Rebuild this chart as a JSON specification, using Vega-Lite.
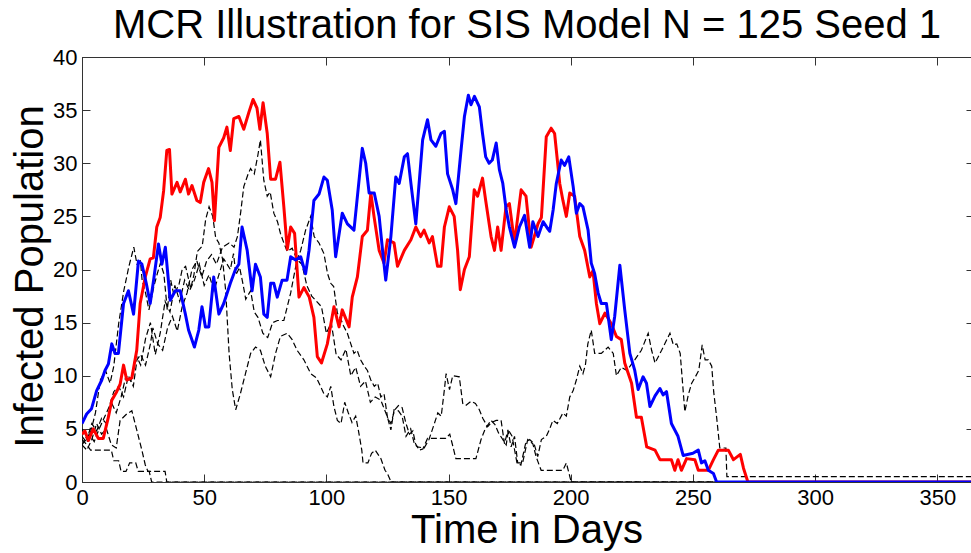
{
  "$schema": "https://vega.github.io/schema/vega-lite/v6.json",
  "width": 889,
  "height": 425,
  "autosize": {"type": "none"},
  "padding": {"left": 82, "top": 57, "right": 0, "bottom": 71},
  "background": "white",
  "config": {
    "font": "Liberation Sans",
    "view": {"stroke": "#333333", "strokeWidth": 1},
    "axis": {"grid": false, "domainColor": "#333333", "tickColor": "#333333", "labelColor": "black", "titleColor": "black", "labelFont": "Liberation Sans", "titleFont": "Liberation Sans"}
  },
  "datasets": {
    "dash": [
      {"s":"D1","d":0,"v":4},{"s":"D1","d":2,"v":3.5},{"s":"D1","d":3.5,"v":3},{"s":"D1","d":8,"v":3},{"s":"D1","d":12,"v":3},{"s":"D1","d":13,"v":2},{"s":"D1","d":15,"v":2},{"s":"D1","d":16,"v":1},{"s":"D1","d":18,"v":1},{"s":"D1","d":19.5,"v":1.8},{"s":"D1","d":22,"v":1.8},{"s":"D1","d":23,"v":1},{"s":"D1","d":27.5,"v":1},{"s":"D1","d":28.5,"v":0},{"s":"D1","d":365,"v":0},
      {"s":"D2","d":0,"v":3.5},{"s":"D2","d":2,"v":3},{"s":"D2","d":4,"v":4},{"s":"D2","d":6,"v":5.5},{"s":"D2","d":8,"v":4.5},{"s":"D2","d":10,"v":5},{"s":"D2","d":12,"v":3.5},{"s":"D2","d":14,"v":3.2},{"s":"D2","d":15.6,"v":5.8},{"s":"D2","d":18.3,"v":6.4},{"s":"D2","d":20.4,"v":6.7},{"s":"D2","d":22.4,"v":4.9},{"s":"D2","d":24.5,"v":3},{"s":"D2","d":25.9,"v":1.6},{"s":"D2","d":27,"v":1},{"s":"D2","d":34,"v":1},{"s":"D2","d":34.7,"v":0},{"s":"D2","d":365,"v":0},
      {"s":"D3","d":0,"v":4.3},{"s":"D3","d":2,"v":3.7},{"s":"D3","d":3.4,"v":4.6},{"s":"D3","d":5.5,"v":6.5},{"s":"D3","d":7.5,"v":9.6},{"s":"D3","d":9.6,"v":10.5},{"s":"D3","d":11.5,"v":9.3},{"s":"D3","d":13,"v":10.9},{"s":"D3","d":15,"v":14.9},{"s":"D3","d":17.1,"v":18},{"s":"D3","d":19.2,"v":20.3},{"s":"D3","d":21.2,"v":22.1},{"s":"D3","d":22.5,"v":20.5},{"s":"D3","d":23.9,"v":20.8},{"s":"D3","d":24.6,"v":19},{"s":"D3","d":26,"v":17.8},{"s":"D3","d":27.4,"v":16.2},{"s":"D3","d":29.4,"v":18.4},{"s":"D3","d":30.8,"v":19.6},{"s":"D3","d":32.1,"v":20.6},{"s":"D3","d":33.5,"v":19.6},{"s":"D3","d":34.9,"v":16.2},{"s":"D3","d":36.3,"v":19},{"s":"D3","d":37.6,"v":17.6},{"s":"D3","d":39.7,"v":18.6},{"s":"D3","d":41,"v":20},{"s":"D3","d":42.4,"v":20.3},{"s":"D3","d":44.5,"v":18.2},{"s":"D3","d":45.8,"v":19.5},{"s":"D3","d":47.2,"v":21.7},{"s":"D3","d":49.2,"v":22.2},{"s":"D3","d":50.6,"v":24.7},{"s":"D3","d":52,"v":25.9},{"s":"D3","d":53.5,"v":25},{"s":"D3","d":54.7,"v":23},{"s":"D3","d":56,"v":22.5},{"s":"D3","d":57.5,"v":21},{"s":"D3","d":58.8,"v":18},{"s":"D3","d":60.2,"v":12.1},{"s":"D3","d":61.5,"v":8.7},{"s":"D3","d":62.9,"v":6.8},{"s":"D3","d":64.8,"v":8.3},{"s":"D3","d":66.9,"v":10.2},{"s":"D3","d":69,"v":12.1},{"s":"D3","d":71,"v":12.7},{"s":"D3","d":73,"v":12.4},{"s":"D3","d":75,"v":10.9},{"s":"D3","d":77.2,"v":9.9},{"s":"D3","d":79.2,"v":12.1},{"s":"D3","d":81.2,"v":13.7},{"s":"D3","d":84,"v":14},{"s":"D3","d":86,"v":13.4},{"s":"D3","d":88,"v":12.4},{"s":"D3","d":90.8,"v":11.5},{"s":"D3","d":93.6,"v":10.2},{"s":"D3","d":96,"v":9.8},{"s":"D3","d":99,"v":8.3},{"s":"D3","d":100.4,"v":8},{"s":"D3","d":101.8,"v":9},{"s":"D3","d":103.1,"v":7.1},{"s":"D3","d":104.5,"v":5.8},{"s":"D3","d":106,"v":5.5},{"s":"D3","d":107.5,"v":7.5},{"s":"D3","d":109,"v":6.5},{"s":"D3","d":110.5,"v":5.6},{"s":"D3","d":112,"v":6.2},{"s":"D3","d":113,"v":5},{"s":"D3","d":114.5,"v":3},{"s":"D3","d":115,"v":1.8},{"s":"D3","d":117,"v":1.8},{"s":"D3","d":118.5,"v":2.7},{"s":"D3","d":120,"v":3},{"s":"D3","d":122.3,"v":2.2},{"s":"D3","d":124,"v":1.1},{"s":"D3","d":125,"v":0.8},{"s":"D3","d":126.5,"v":0},{"s":"D3","d":365,"v":0},
      {"s":"D4","d":0,"v":3.5},{"s":"D4","d":3,"v":4.5},{"s":"D4","d":5,"v":3.8},{"s":"D4","d":7,"v":5},{"s":"D4","d":9,"v":6},{"s":"D4","d":11,"v":7},{"s":"D4","d":13,"v":8.5},{"s":"D4","d":15,"v":9},{"s":"D4","d":17,"v":8},{"s":"D4","d":19,"v":10},{"s":"D4","d":21,"v":9},{"s":"D4","d":22.5,"v":11.5},{"s":"D4","d":24,"v":12},{"s":"D4","d":26,"v":11},{"s":"D4","d":28,"v":13},{"s":"D4","d":29,"v":14.5},{"s":"D4","d":31,"v":13},{"s":"D4","d":33,"v":12.4},{"s":"D4","d":35,"v":14.5},{"s":"D4","d":37,"v":15.6},{"s":"D4","d":39,"v":14.2},{"s":"D4","d":41,"v":16.5},{"s":"D4","d":43,"v":17.8},{"s":"D4","d":45,"v":20},{"s":"D4","d":47,"v":20.8},{"s":"D4","d":49,"v":19.3},{"s":"D4","d":51,"v":20.8},{"s":"D4","d":53,"v":21.4},{"s":"D4","d":55,"v":20.5},{"s":"D4","d":57.5,"v":22.1},{"s":"D4","d":60.2,"v":22.5},{"s":"D4","d":62.2,"v":22.1},{"s":"D4","d":63.6,"v":23.1},{"s":"D4","d":65,"v":25.5},{"s":"D4","d":66.2,"v":27.8},{"s":"D4","d":68,"v":29},{"s":"D4","d":69,"v":29.5},{"s":"D4","d":70.5,"v":29},{"s":"D4","d":72,"v":30.8},{"s":"D4","d":73,"v":32.2},{"s":"D4","d":74.4,"v":28.4},{"s":"D4","d":75.8,"v":26.9},{"s":"D4","d":77,"v":27.3},{"s":"D4","d":78.5,"v":25.3},{"s":"D4","d":80,"v":24.5},{"s":"D4","d":81.2,"v":23.4},{"s":"D4","d":82.6,"v":22.5},{"s":"D4","d":84,"v":21.7},{"s":"D4","d":86,"v":22},{"s":"D4","d":88.1,"v":20.9},{"s":"D4","d":90,"v":20.5},{"s":"D4","d":92,"v":18.5},{"s":"D4","d":94,"v":17.5},{"s":"D4","d":96,"v":17},{"s":"D4","d":98,"v":16.5},{"s":"D4","d":100,"v":14},{"s":"D4","d":102,"v":15},{"s":"D4","d":104,"v":12},{"s":"D4","d":106,"v":11.5},{"s":"D4","d":108,"v":12.5},{"s":"D4","d":110,"v":10},{"s":"D4","d":112,"v":10.8},{"s":"D4","d":114,"v":9},{"s":"D4","d":116,"v":9.5},{"s":"D4","d":118,"v":7.5},{"s":"D4","d":120,"v":8},{"s":"D4","d":122.3,"v":7.7},{"s":"D4","d":125,"v":6.1},{"s":"D4","d":126.4,"v":4.9},{"s":"D4","d":127.7,"v":6.8},{"s":"D4","d":129.5,"v":6.7},{"s":"D4","d":131,"v":6.2},{"s":"D4","d":132.6,"v":4.3},{"s":"D4","d":134.5,"v":5},{"s":"D4","d":136,"v":3.6},{"s":"D4","d":137.3,"v":3.3},{"s":"D4","d":140,"v":3.2},{"s":"D4","d":142,"v":4},{"s":"D4","d":144.2,"v":5.5},{"s":"D4","d":145.6,"v":6.5},{"s":"D4","d":147,"v":6.2},{"s":"D4","d":148.3,"v":8.7},{"s":"D4","d":149,"v":10.2},{"s":"D4","d":150.4,"v":8.7},{"s":"D4","d":151.7,"v":10},{"s":"D4","d":154.4,"v":9.9},{"s":"D4","d":155.8,"v":7.4},{"s":"D4","d":157,"v":7.2},{"s":"D4","d":159.2,"v":7.6},{"s":"D4","d":161,"v":7.4},{"s":"D4","d":162.6,"v":6.8},{"s":"D4","d":164,"v":6},{"s":"D4","d":166,"v":5.2},{"s":"D4","d":167.5,"v":5.6},{"s":"D4","d":169.5,"v":5.8},{"s":"D4","d":171.5,"v":5.8},{"s":"D4","d":172.9,"v":3.6},{"s":"D4","d":174.3,"v":4.9},{"s":"D4","d":175.6,"v":3.3},{"s":"D4","d":177,"v":4.3},{"s":"D4","d":178.3,"v":1.8},{"s":"D4","d":180.3,"v":1.8},{"s":"D4","d":182.4,"v":4},{"s":"D4","d":184.5,"v":3.6},{"s":"D4","d":185.8,"v":2.4},{"s":"D4","d":187.9,"v":1.1},{"s":"D4","d":196.8,"v":1.1},{"s":"D4","d":198.2,"v":1.8},{"s":"D4","d":200.2,"v":0},{"s":"D4","d":365,"v":0},
      {"s":"D5","d":0,"v":5},{"s":"D5","d":2,"v":4},{"s":"D5","d":4,"v":5.5},{"s":"D5","d":6,"v":4.8},{"s":"D5","d":8,"v":6},{"s":"D5","d":10,"v":5.5},{"s":"D5","d":12,"v":7.5},{"s":"D5","d":14,"v":6.5},{"s":"D5","d":16,"v":8},{"s":"D5","d":18,"v":10},{"s":"D5","d":20,"v":9.5},{"s":"D5","d":22,"v":12},{"s":"D5","d":24,"v":11},{"s":"D5","d":26,"v":13.5},{"s":"D5","d":28,"v":15},{"s":"D5","d":30,"v":12},{"s":"D5","d":32,"v":14},{"s":"D5","d":34,"v":17},{"s":"D5","d":36,"v":16},{"s":"D5","d":38,"v":18.5},{"s":"D5","d":40,"v":17},{"s":"D5","d":42,"v":19},{"s":"D5","d":44,"v":18},{"s":"D5","d":46,"v":19},{"s":"D5","d":48,"v":20.5},{"s":"D5","d":50,"v":18.5},{"s":"D5","d":52,"v":19.5},{"s":"D5","d":54,"v":18},{"s":"D5","d":56,"v":19.5},{"s":"D5","d":58,"v":21},{"s":"D5","d":60.7,"v":20},{"s":"D5","d":62,"v":21.5},{"s":"D5","d":63,"v":19.5},{"s":"D5","d":64.5,"v":20.2},{"s":"D5","d":66,"v":18.5},{"s":"D5","d":67,"v":17.2},{"s":"D5","d":69,"v":18},{"s":"D5","d":70.5,"v":16},{"s":"D5","d":72,"v":15.5},{"s":"D5","d":74,"v":14},{"s":"D5","d":76,"v":13.6},{"s":"D5","d":78,"v":15},{"s":"D5","d":80,"v":15.2},{"s":"D5","d":82.6,"v":15.2},{"s":"D5","d":84,"v":16.5},{"s":"D5","d":85.4,"v":17.8},{"s":"D5","d":86.8,"v":19.5},{"s":"D5","d":88,"v":20.9},{"s":"D5","d":89.5,"v":21.8},{"s":"D5","d":91.5,"v":23.7},{"s":"D5","d":93.6,"v":25},{"s":"D5","d":95,"v":23.1},{"s":"D5","d":97,"v":22.5},{"s":"D5","d":99,"v":21.5},{"s":"D5","d":100.5,"v":19.6},{"s":"D5","d":101.8,"v":18.7},{"s":"D5","d":103,"v":18.4},{"s":"D5","d":104.5,"v":15.9},{"s":"D5","d":106,"v":15.3},{"s":"D5","d":107,"v":14.7},{"s":"D5","d":108.6,"v":14},{"s":"D5","d":110,"v":13},{"s":"D5","d":111.3,"v":12.1},{"s":"D5","d":112.6,"v":12.4},{"s":"D5","d":114,"v":11.5},{"s":"D5","d":115.5,"v":10.9},{"s":"D5","d":116.8,"v":10.5},{"s":"D5","d":118.2,"v":9.6},{"s":"D5","d":119.6,"v":9},{"s":"D5","d":121,"v":9.3},{"s":"D5","d":122.3,"v":8},{"s":"D5","d":123.6,"v":8.3},{"s":"D5","d":125,"v":6.1},{"s":"D5","d":126.4,"v":5.5},{"s":"D5","d":128,"v":6.8},{"s":"D5","d":129.5,"v":7.2},{"s":"D5","d":131,"v":7},{"s":"D5","d":132.6,"v":5.5},{"s":"D5","d":134,"v":4.5},{"s":"D5","d":135.4,"v":4.8},{"s":"D5","d":136.5,"v":3.6},{"s":"D5","d":138,"v":3},{"s":"D5","d":139.5,"v":3.1},{"s":"D5","d":141.4,"v":4.1},{"s":"D5","d":148.9,"v":4.1},{"s":"D5","d":150.5,"v":4.5},{"s":"D5","d":151.5,"v":3.6},{"s":"D5","d":153,"v":2.2},{"s":"D5","d":161.2,"v":2.2},{"s":"D5","d":163.3,"v":4},{"s":"D5","d":165,"v":5},{"s":"D5","d":167.4,"v":5.8},{"s":"D5","d":169,"v":5.4},{"s":"D5","d":170.5,"v":4.6},{"s":"D5","d":173.6,"v":3.5},{"s":"D5","d":174.5,"v":4.9},{"s":"D5","d":176,"v":4.3},{"s":"D5","d":178,"v":1.8},{"s":"D5","d":179.6,"v":1.6},{"s":"D5","d":181.5,"v":3.6},{"s":"D5","d":183.2,"v":4},{"s":"D5","d":185,"v":3.6},{"s":"D5","d":186.5,"v":2.4},{"s":"D5","d":188,"v":4},{"s":"D5","d":190,"v":4.3},{"s":"D5","d":191.4,"v":5},{"s":"D5","d":192.7,"v":5.8},{"s":"D5","d":194.5,"v":5.5},{"s":"D5","d":196.8,"v":6.5},{"s":"D5","d":198.2,"v":6.2},{"s":"D5","d":199.6,"v":8},{"s":"D5","d":201,"v":8.6},{"s":"D5","d":202.3,"v":9.6},{"s":"D5","d":203.7,"v":10.9},{"s":"D5","d":205,"v":10.2},{"s":"D5","d":206,"v":11},{"s":"D5","d":207,"v":13},{"s":"D5","d":208.4,"v":14.3},{"s":"D5","d":209.8,"v":12.1},{"s":"D5","d":212.5,"v":12.1},{"s":"D5","d":215.3,"v":12.7},{"s":"D5","d":217.4,"v":12.1},{"s":"D5","d":218.7,"v":10},{"s":"D5","d":220.7,"v":10.8},{"s":"D5","d":223,"v":10.5},{"s":"D5","d":226.2,"v":11.5},{"s":"D5","d":228.9,"v":12.4},{"s":"D5","d":231.7,"v":14},{"s":"D5","d":233.1,"v":12.4},{"s":"D5","d":234.5,"v":11.2},{"s":"D5","d":237.2,"v":12.4},{"s":"D5","d":240.6,"v":14},{"s":"D5","d":242,"v":12.9},{"s":"D5","d":243.4,"v":13},{"s":"D5","d":244.8,"v":12.1},{"s":"D5","d":246.7,"v":6.6},{"s":"D5","d":248.1,"v":8.2},{"s":"D5","d":249.5,"v":9.3},{"s":"D5","d":251,"v":9.9},{"s":"D5","d":252.4,"v":10.5},{"s":"D5","d":253.8,"v":12.9},{"s":"D5","d":255,"v":11.5},{"s":"D5","d":256.3,"v":11.5},{"s":"D5","d":257.7,"v":10.9},{"s":"D5","d":258.5,"v":8.5},{"s":"D5","d":259.7,"v":6.1},{"s":"D5","d":261,"v":3.2},{"s":"D5","d":263.5,"v":3.2},{"s":"D5","d":263.9,"v":0.5},{"s":"D5","d":365,"v":0.5}
    ],
    "red": [
      {"d":0,"v":4.5},{"d":1.2,"v":4.8},{"d":2.6,"v":3.9},{"d":4.6,"v":5},{"d":6.7,"v":4.1},{"d":8.7,"v":4.1},{"d":10.8,"v":6.1},{"d":12.2,"v":7.7},{"d":14.2,"v":8.5},{"d":15.6,"v":9.2},{"d":17,"v":11},{"d":18.3,"v":9.6},{"d":20.4,"v":9.8},{"d":22.4,"v":12.4},{"d":23.8,"v":16.8},{"d":25.9,"v":19.3},{"d":27.9,"v":21},{"d":29.2,"v":21.1},{"d":30.6,"v":24},{"d":32,"v":24.9},{"d":33.4,"v":27.4},{"d":34.7,"v":31.2},{"d":35.8,"v":31.3},{"d":36.8,"v":27.1},{"d":38.9,"v":28.2},{"d":40.2,"v":27.3},{"d":42.3,"v":28.5},{"d":43.6,"v":27.1},{"d":45,"v":27.9},{"d":47,"v":26.5},{"d":48.4,"v":26.3},{"d":49.8,"v":28.2},{"d":51.8,"v":29.5},{"d":53.2,"v":28.2},{"d":54.2,"v":24.6},{"d":56,"v":31.5},{"d":58,"v":32.4},{"d":59.3,"v":33.4},{"d":60.7,"v":31.2},{"d":62.1,"v":34.2},{"d":64.2,"v":34.4},{"d":66.2,"v":33.2},{"d":68.3,"v":34.8},{"d":70,"v":36},{"d":71.6,"v":35.2},{"d":72.8,"v":33.2},{"d":74.1,"v":35.7},{"d":75.8,"v":32.8},{"d":77.2,"v":28.5},{"d":79.2,"v":28.5},{"d":81,"v":30.1},{"d":82.6,"v":25.9},{"d":84,"v":21.9},{"d":85.4,"v":24},{"d":87,"v":23.4},{"d":88.8,"v":17.4},{"d":90.8,"v":18.3},{"d":93,"v":17.4},{"d":94.9,"v":15.5},{"d":96.3,"v":11.8},{"d":98,"v":11.2},{"d":100.4,"v":13},{"d":103.1,"v":16.5},{"d":105.2,"v":14.6},{"d":106.5,"v":16.2},{"d":109.3,"v":14.6},{"d":110.6,"v":17.4},{"d":112.7,"v":19.3},{"d":114.7,"v":23.1},{"d":116.8,"v":23.7},{"d":118.2,"v":27.2},{"d":119.5,"v":25},{"d":121.6,"v":21.8},{"d":123.6,"v":20.6},{"d":125,"v":22.8},{"d":127.7,"v":22.5},{"d":129.1,"v":20.3},{"d":131.9,"v":21.8},{"d":134.6,"v":22.8},{"d":136.6,"v":24},{"d":138.6,"v":23.1},{"d":140,"v":23.7},{"d":142.1,"v":22.5},{"d":143.4,"v":23.1},{"d":145.5,"v":20.3},{"d":146.9,"v":20.3},{"d":148.3,"v":24},{"d":150.3,"v":25.9},{"d":152.3,"v":25},{"d":153.7,"v":21.8},{"d":154.8,"v":18.1},{"d":156.5,"v":20},{"d":158.5,"v":21.2},{"d":160.5,"v":27.5},{"d":161.9,"v":26.9},{"d":163.9,"v":28.6},{"d":165.2,"v":26.5},{"d":167.4,"v":23.1},{"d":168.8,"v":21.8},{"d":170.1,"v":24},{"d":171.5,"v":21.8},{"d":173.5,"v":25.9},{"d":174.9,"v":26.2},{"d":177,"v":22.5},{"d":179.7,"v":27.5},{"d":181.7,"v":26.9},{"d":183.8,"v":22.1},{"d":186.6,"v":24.3},{"d":188,"v":24.9},{"d":190,"v":32.5},{"d":192,"v":33.3},{"d":193.4,"v":32.8},{"d":195.5,"v":28.1},{"d":196.8,"v":26.5},{"d":198.2,"v":25},{"d":199.6,"v":27.2},{"d":201.6,"v":26.9},{"d":203.7,"v":23.1},{"d":205.7,"v":21.8},{"d":207.8,"v":19.3},{"d":209.1,"v":19.9},{"d":210.5,"v":16.8},{"d":211.9,"v":14.9},{"d":214,"v":15.9},{"d":216.6,"v":14.9},{"d":218.7,"v":13.7},{"d":220.7,"v":13.4},{"d":222.1,"v":11.2},{"d":224.9,"v":9.3},{"d":226.9,"v":6.1},{"d":228.9,"v":6.1},{"d":231.1,"v":3.3},{"d":234.5,"v":3},{"d":236.5,"v":2.1},{"d":241.2,"v":2.1},{"d":242.6,"v":1.1},{"d":243.9,"v":2.1},{"d":245.3,"v":1.1},{"d":247.4,"v":2.2},{"d":250.8,"v":2.1},{"d":252.2,"v":1.1},{"d":256.3,"v":1.1},{"d":258.4,"v":2.1},{"d":260.4,"v":3},{"d":264.5,"v":3},{"d":266.6,"v":2.1},{"d":269.4,"v":2.6},{"d":270.7,"v":1.3},{"d":272.5,"v":0},{"d":365,"v":0}
    ],
    "blue": [
      {"d":0,"v":5.5},{"d":1.9,"v":6.4},{"d":3.9,"v":6.9},{"d":6,"v":8.6},{"d":8.1,"v":9.6},{"d":9.4,"v":10.5},{"d":10.8,"v":11.1},{"d":12.2,"v":13},{"d":13.5,"v":12.1},{"d":14.9,"v":12.1},{"d":17,"v":16.8},{"d":19,"v":18},{"d":21.1,"v":15.8},{"d":23.1,"v":20.8},{"d":24.5,"v":20.5},{"d":26.3,"v":18.7},{"d":27.9,"v":16.8},{"d":29.3,"v":19},{"d":31.3,"v":22.4},{"d":32.7,"v":20.5},{"d":34.1,"v":22.1},{"d":36.1,"v":17.1},{"d":38.2,"v":18},{"d":40.2,"v":18},{"d":42.3,"v":15.8},{"d":43.6,"v":14.3},{"d":46,"v":12.7},{"d":47.8,"v":14.3},{"d":49.1,"v":16.5},{"d":50.5,"v":14.6},{"d":51.9,"v":14.6},{"d":53.9,"v":19.3},{"d":56,"v":15.8},{"d":58,"v":16.8},{"d":60.7,"v":18.7},{"d":62.8,"v":20},{"d":64.2,"v":20.5},{"d":65.5,"v":24},{"d":67.6,"v":21.8},{"d":69.6,"v":18},{"d":71,"v":20.5},{"d":73,"v":19.3},{"d":74.4,"v":15.8},{"d":75.8,"v":15.5},{"d":77.2,"v":18.7},{"d":78.5,"v":18.7},{"d":79.9,"v":17.4},{"d":81.9,"v":19},{"d":83.9,"v":19},{"d":85.4,"v":21.2},{"d":87.4,"v":20.9},{"d":89.5,"v":21.2},{"d":91.5,"v":19.6},{"d":92.9,"v":21.8},{"d":94.9,"v":26.5},{"d":97,"v":27.1},{"d":99,"v":28.7},{"d":100.4,"v":28.4},{"d":102.4,"v":25.6},{"d":103.8,"v":21.2},{"d":106.5,"v":25.3},{"d":108.6,"v":24.3},{"d":111.3,"v":23.7},{"d":114.7,"v":31.4},{"d":116.1,"v":30},{"d":117.5,"v":27.2},{"d":119.6,"v":27.2},{"d":121.6,"v":25},{"d":123,"v":21.8},{"d":124.3,"v":19},{"d":126.4,"v":23.1},{"d":128.4,"v":28.7},{"d":129.8,"v":28.1},{"d":131.9,"v":30.6},{"d":133.2,"v":30.9},{"d":134.6,"v":28.1},{"d":136.6,"v":24.3},{"d":139.4,"v":32.2},{"d":141.4,"v":34.1},{"d":142.8,"v":32.2},{"d":144.8,"v":31.6},{"d":146.9,"v":32.8},{"d":148.3,"v":33},{"d":149.6,"v":29},{"d":151.7,"v":27.5},{"d":153,"v":26.2},{"d":155.1,"v":31.2},{"d":156.5,"v":34.4},{"d":158.1,"v":36.4},{"d":159.2,"v":35.5},{"d":160.6,"v":36.3},{"d":162.6,"v":35.3},{"d":163.9,"v":32.8},{"d":165.2,"v":30.6},{"d":166.6,"v":30},{"d":167.9,"v":30.3},{"d":169.5,"v":31.9},{"d":170.8,"v":29.4},{"d":172.2,"v":28.1},{"d":173.6,"v":25.6},{"d":174.9,"v":24},{"d":177,"v":22.1},{"d":179,"v":24},{"d":181.1,"v":25.1},{"d":183.2,"v":22.1},{"d":184.5,"v":24.5},{"d":186.6,"v":23.1},{"d":188.7,"v":24.5},{"d":190.7,"v":23.8},{"d":191.4,"v":23.6},{"d":192.8,"v":25.6},{"d":194.1,"v":28.1},{"d":196.1,"v":30.3},{"d":197.5,"v":29.8},{"d":199.2,"v":30.6},{"d":201,"v":27.8},{"d":202.3,"v":25.3},{"d":203.7,"v":26.2},{"d":205,"v":25.9},{"d":207.1,"v":23.7},{"d":208.4,"v":20.6},{"d":209.8,"v":19.6},{"d":211.2,"v":17.8},{"d":212.5,"v":16.8},{"d":214.6,"v":16.8},{"d":216.6,"v":13.4},{"d":218,"v":15.6},{"d":220.1,"v":20.4},{"d":222.1,"v":16.2},{"d":224.2,"v":12.1},{"d":226.2,"v":10.5},{"d":227.6,"v":8.7},{"d":229.6,"v":9.9},{"d":231,"v":9.3},{"d":232.4,"v":7.1},{"d":234.5,"v":8.1},{"d":236.5,"v":8.8},{"d":237.8,"v":8.2},{"d":239.2,"v":8.5},{"d":241.2,"v":5.5},{"d":243.9,"v":4.3},{"d":246,"v":2.5},{"d":250,"v":2.7},{"d":252.2,"v":3},{"d":253.5,"v":1.8},{"d":254.9,"v":2},{"d":256.3,"v":1.1},{"d":258.4,"v":0.8},{"d":259.7,"v":0},{"d":365,"v":0}
    ]
  },
  "layer": [
    {
      "data": {"name": "dash"},
      "mark": {"type": "line", "color": "black", "strokeWidth": 1.2, "strokeDash": [6, 3], "clip": true},
      "encoding": {
        "x": {"field": "d", "type": "quantitative", "scale": {"domain": [0, 363.8], "nice": false, "zero": false},
          "axis": {"orient": "bottom", "values": [0, 50, 100, 150, 200, 250, 300, 350], "title": "Time in Days", "titleFontSize": 40, "titleFontWeight": "normal", "titleY": 60, "titleBaseline": "alphabetic", "labelFontSize": 22, "labelBaseline": "alphabetic", "labelPadding": 30, "tickSize": -8, "labelFlush": false, "labelOverlap": false}},
        "y": {"field": "v", "type": "quantitative", "scale": {"domain": [0, 40], "nice": false},
          "axis": {"orient": "left", "values": [0, 5, 10, 15, 20, 25, 30, 35, 40], "title": "Infected Population", "titleFontSize": 40, "titleFontWeight": "normal", "titleAngle": 270, "titleX": -40, "titleY": 219, "titleAlign": "center", "titleBaseline": "alphabetic", "labelFontSize": 22, "labelPadding": 13, "tickSize": -8, "labelFlush": false, "labelOverlap": false}},
        "detail": {"field": "s"}
      }
    },
    {
      "data": {"name": "red"},
      "mark": {"type": "line", "color": "#ff0000", "strokeWidth": 3, "strokeJoin": "round", "clip": true},
      "encoding": {
        "x": {"field": "d", "type": "quantitative", "scale": {"domain": [0, 363.8], "nice": false, "zero": false},
          "axis": {"orient": "top", "values": [0, 50, 100, 150, 200, 250, 300, 350], "title": "MCR Illustration for SIS Model N = 125 Seed 1", "titleFontSize": 40, "titleFontWeight": "normal", "titleX": 444.5, "titleY": -20, "titleAlign": "center", "titleAnchor": "middle", "titleBaseline": "alphabetic", "labels": false, "tickSize": -8}},
        "y": {"field": "v", "type": "quantitative", "scale": {"domain": [0, 40], "nice": false},
          "axis": {"orient": "right", "values": [0, 5, 10, 15, 20, 25, 30, 35, 40], "title": null, "labels": false, "tickSize": -5, "domain": false}}
      }
    },
    {
      "data": {"name": "blue"},
      "mark": {"type": "line", "color": "#0000ff", "strokeWidth": 3, "strokeJoin": "round", "clip": true},
      "encoding": {
        "x": {"field": "d", "type": "quantitative", "scale": {"domain": [0, 363.8], "nice": false, "zero": false}, "axis": null},
        "y": {"field": "v", "type": "quantitative", "scale": {"domain": [0, 40], "nice": false}, "axis": null}
      }
    }
  ],
  "resolve": {"axis": {"x": "independent", "y": "independent"}}
}
